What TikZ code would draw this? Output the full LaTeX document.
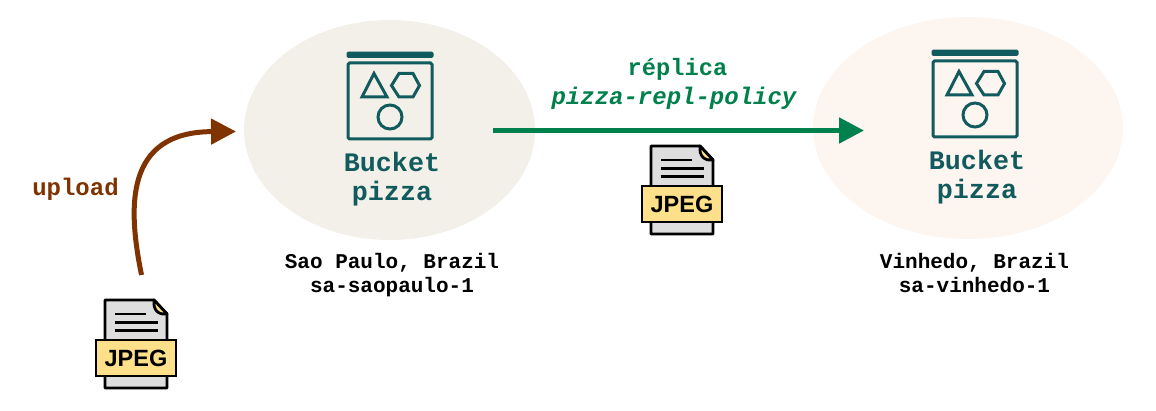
\documentclass[tikz,border=0pt]{standalone}
\usepackage{fontspec}
\setmainfont{Liberation Sans}
\setmonofont{Liberation Mono}
\usetikzlibrary{arrows.meta,shapes.geometric}
\definecolor{teal1}{HTML}{115A5E}
\definecolor{brown1}{HTML}{7F3300}
\definecolor{green1}{HTML}{00804A}
\definecolor{sand}{HTML}{F2F0E8}
\definecolor{peach}{HTML}{FDF5EF}
\definecolor{filegray}{HTML}{DEDEDE}
\definecolor{labely}{HTML}{FFE08A}
\tikzset{
  region/.style={ellipse,inner sep=0pt,draw=none},
  montxt/.style={font=\ttfamily\bfseries\fontsize{#1}{#1}\selectfont,align=center,inner sep=0pt},
  bucketlbl/.style={font=\ttfamily\bfseries\fontsize{26.7}{29}\selectfont,align=center,inner sep=0pt,text=teal1},
  loclbl/.style={font=\ttfamily\bfseries\fontsize{21}{24.5}\selectfont,align=center,inner sep=0pt,text=black},
  jpeglbl/.style={font=\bfseries\fontsize{23.5}{24}\selectfont,inner sep=0pt},
  flow/.style={line width=5pt,draw=#1,-{Triangle[length=25pt,width=25pt,fill=#1]}},
  pics/bucketicon/.style={code={
    \fill[teal1,rounded corners=1.5pt] (-43.5,-78.8) rectangle (43.5,-72.6);
    \draw[teal1,line width=3pt,rounded corners=1.5pt] (-42,-67.5) rectangle (42,8.5);
    \draw[teal1,line width=3pt,line join=miter] (-16,-57) -- (-3,-33.5) -- (-28,-33.5) -- cycle;
    \draw[teal1,line width=3pt] (1.5,-45) -- (9,-57) -- (23,-57) -- (29.5,-45) -- (23,-33.5) -- (9,-33.5) -- cycle;
    \draw[teal1,line width=3pt] (0,-13.5) circle (12);
  }},
  pics/jpegicon/.style={code={
    \draw[black,line width=2.8pt,fill=filegray,line join=round] (-31,-41) -- (18,-41) -- (31,-27) -- (31,47) -- (-31,47) -- cycle;
    \draw[black,line width=2.8pt,fill=labely,line join=round] (18,-41) -- (31,-27) .. controls (22,-26) and (17,-31) .. (18,-41) -- cycle;
    \draw[black,line width=2.4pt] (-21,-27) -- (10,-27) (-21,-18.5) -- (22,-18.5) (-21,-10.5) -- (22,-10.5);
    \draw[black,line width=2.8pt,fill=labely] (-40,-1) rectangle (40,35);
  }},
}
\begin{document}
\begin{tikzpicture}[x=1pt,y=-1pt]
\useasboundingbox (0,0) rectangle (1156,411);
\node[region,fill=sand,minimum width=291pt,minimum height=220pt] (src) at (389.5,130) {};
\node[region,fill=peach,minimum width=310pt,minimum height=222pt] (dst) at (968,128) {};
\pic at (390,130.5) {bucketicon};
\pic at (975,128.5) {bucketicon};
\node[bucketlbl] (srcname) at (392,179) {Bucket\\pizza};
\node[bucketlbl] (dstname) at (977,177) {Bucket\\pizza};
\node[loclbl] (srcloc) at (392,275) {Sao Paulo, Brazil\\sa-saopaulo-1};
\node[loclbl] (dstloc) at (974.5,273) {Vinhedo, Brazil\\sa-vinhedo-1};
\coordinate (replfrom) at (493,130.5);
\coordinate (replto) at (864,130.5);
\draw[flow=green1] (replfrom) -- (replto);
\node[montxt=23.7,text=green1] (repl) at (677.5,69) {réplica};
\node[montxt=24,text=green1,font=\ttfamily\bfseries\itshape\fontsize{24}{24}\selectfont] (policy) at (674,98) {pizza-repl-policy};
\pic at (682,187) {jpegicon};
\node[jpeglbl] (jpeg1) at (682,204) {JPEG};
\pic at (136,341) {jpegicon};
\node[jpeglbl] (jpeg2) at (136,358) {JPEG};
\node[montxt=24,text=brown1] (upload) at (75.5,189) {upload};
\coordinate (upfrom) at (141.5,275);
\coordinate (upto) at (236,131.5);
\draw[flow=brown1] (upfrom) .. controls (128,208) and (124,132) .. (upto);
\end{tikzpicture}
\end{document}
